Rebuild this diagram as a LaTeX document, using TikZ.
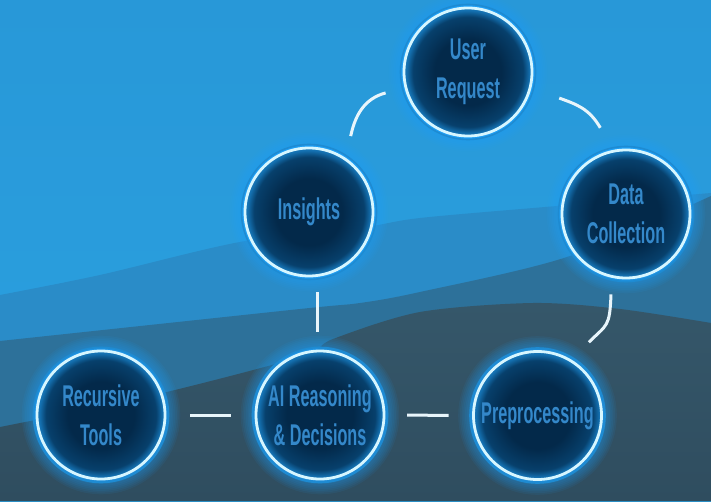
\documentclass[tikz,border=0pt]{standalone}
\usepackage{fontspec}
\usetikzlibrary{backgrounds}
\newfontfamily\lblfont{Liberation Sans Bold}[FakeStretch=0.54]
\definecolor{bgA}{HTML}{2AA1E0}
\definecolor{bgAtop}{HTML}{2898D8}
\definecolor{bgB}{HTML}{2A8CC8}
\definecolor{bgC}{HTML}{2D719A}
\definecolor{bgD}{HTML}{35576A}
\definecolor{bgDbot}{HTML}{2F4D5F}
\definecolor{orbin}{HTML}{03294A}
\definecolor{orbmid}{HTML}{07406C}
\definecolor{orbedge}{HTML}{1573B4}
\definecolor{ringc}{HTML}{D6F6FF}
\definecolor{ringblue}{HTML}{1E8BD2}
\definecolor{glowc}{HTML}{1CA2FF}
\definecolor{txtc}{HTML}{3488CA}
\definecolor{linec}{HTML}{E8F5FB}
\pgfdeclareradialshading{orbshade}{\pgfpoint{0bp}{0bp}}{color(0bp)=(orbin); color(13bp)=(orbin); color(21.5bp)=(orbmid); color(24.2bp)=(orbedge); color(25bp)=(orbedge); color(50bp)=(orbedge)}
\begin{document}
\begin{tikzpicture}[x=1pt,y=1pt,
  orb/.style={circle, minimum size=128pt, inner sep=0pt, outer sep=0pt,
    shading=orbshade, draw=ringc, line width=2.8pt, text=txtc,
    font=\lblfont\fontsize{30}{39}\selectfont, align=center},
  conn/.style={draw=linec, line width=3pt}]
\useasboundingbox (0,0) rectangle (711,501);
% nodes
\node[orb] (user) at (468,429) {\raisebox{-2.5pt}{User}\\\raisebox{-2.5pt}{Request}};
\node[orb] (ins)  at (309,289) {\raisebox{-3.5pt}{Insights}};
\node[orb] (data) at (626,287) {\raisebox{-2.5pt}{Data}\\\raisebox{-2.5pt}{Collection}};
\node[orb] (pre)  at (537.5,85.5) {\raisebox{-2.5pt}{Preprocessing}};
\node[orb] (ai)   at (320,86) {\raisebox{-2.5pt}{AI Reasoning}\\\raisebox{-2.5pt}{\& Decisions}};
\node[orb] (rec)  at (101,86) {\raisebox{-2.5pt}{Recursive}\\\raisebox{-2.5pt}{Tools}};
% connectors
\draw[conn, shorten <=24pt, shorten >=21pt] (ins.55) to[out=78,in=195,looseness=1.2] (user.194);
\draw[conn, shorten <=31pt, shorten >=27pt] (user.-14) to[out=-20,in=120,looseness=1.2] (data.101);
\draw[conn, shorten <=18pt, shorten >=26pt] (data.257) to[out=268,in=45,looseness=1.4] (pre.59);
\draw[conn, shorten <=16pt, shorten >=19pt] ([xshift=8pt]ins.south) -- ([xshift=-3pt]ai.north);
\draw[conn, shorten <=25pt, shorten >=25pt] (rec) -- (ai);
\draw[conn, shorten <=23pt, shorten >=25pt] (ai) -- (pre);
\begin{pgfonlayer}{background}
  \shade[top color=bgAtop, bottom color=bgA] (0,0) rectangle (711,501);
  \fill[bgB] (0,0) -- plot[smooth] coordinates {(0,206) (100,226) (240,259) (360,273) (420,283) (557,295) (711,308)} -- (711,0) -- cycle;
  \fill[bgC] (0,0) -- plot[smooth] coordinates {(0,160) (300,192) (360,198) (420,209) (567,244) (711,305)} -- (711,0) -- cycle;
  \shade[top color=bgD, bottom color=bgDbot] (0,0) -- plot[smooth] coordinates {(0,74) (150,105) (300,144) (333,162) (420,189) (533,198) (620,192) (711,178)} -- (711,0) -- cycle;
  \foreach \n in {user,ins,data,pre,ai,rec}{
    \foreach \i in {1,...,9}{
      \fill[glowc, opacity=0.07] (\n) circle ({64+1.7*\i});
    }
    \draw[glowc, line width=7pt, opacity=0.55] (\n) circle (64);
    \draw[ringblue, line width=1.6pt] (\n) circle (67.5);
  }
\end{pgfonlayer}
\end{tikzpicture}
\end{document}
